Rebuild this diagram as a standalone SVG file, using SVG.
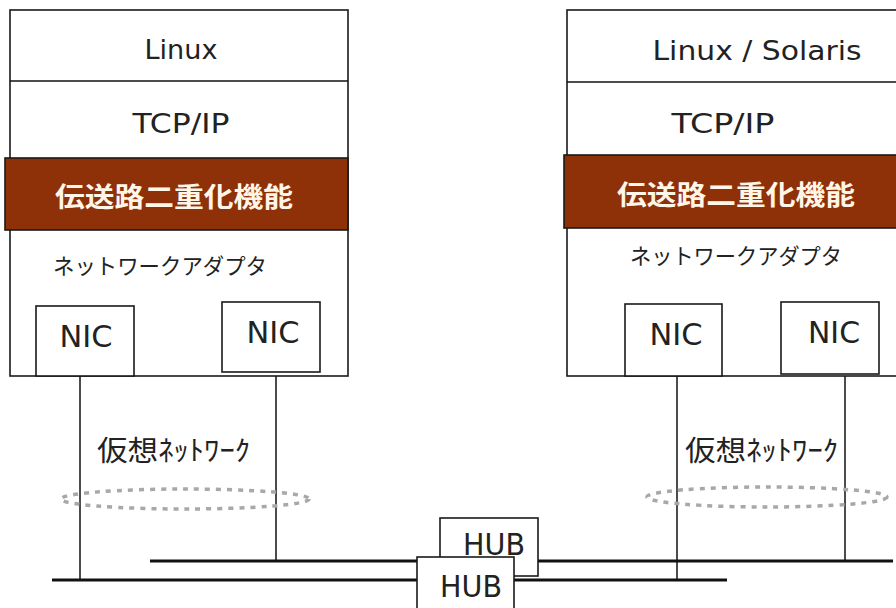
<svg xmlns="http://www.w3.org/2000/svg" width="896" height="608" viewBox="0 0 896 608">
<style>
.box{fill:#fff;stroke:#1a1a1a;stroke-width:1.6}
.band{fill:#8e3008;stroke:#1a1a1a;stroke-width:1.6}
.t{font-family:"DejaVu Sans","Noto Sans",sans-serif;fill:#222;font-size:26px}
.n{font-size:30px}
.j{font-family:"Noto Sans CJK JP",sans-serif;fill:#222}
.jb{font-family:"Noto Sans CJK JP",sans-serif;fill:#fff6e8;font-weight:bold;font-size:27px}
.bus{stroke:#111;stroke-width:3;fill:none}
.drop{stroke:#111;stroke-width:1.5;fill:none}
.vn{fill:none;stroke:#a8a8a8;stroke-width:3.5;stroke-dasharray:5 6}
</style>
<rect width="896" height="608" fill="#fff"/>
<g id="connectors">
<line class="drop" x1="80" y1="376" x2="80" y2="580"/>
<line class="drop" x1="276" y1="372" x2="276" y2="561"/>
<line class="drop" x1="677" y1="376" x2="677" y2="580"/>
<line class="drop" x1="845" y1="374" x2="845" y2="561"/>
<line class="bus" x1="150" y1="561" x2="440" y2="561"/>
<line class="bus" x1="538" y1="561" x2="893" y2="561"/>
<line class="bus" x1="52" y1="580" x2="417" y2="580"/>
<line class="bus" x1="514" y1="580" x2="727" y2="580"/>
</g>
<g id="host-left">
<rect class="box" x="10" y="10" width="338" height="366"/>
<line class="drop" x1="10" y1="81" x2="348" y2="81"/>
<text class="t" x="181" y="59" text-anchor="middle" textLength="73" lengthAdjust="spacingAndGlyphs">Linux</text>
<text class="t" x="181" y="133" text-anchor="middle" textLength="97" lengthAdjust="spacingAndGlyphs">TCP/IP</text>
<rect class="band" x="5" y="158" width="343" height="72"/>
<text class="jb" x="174" y="207" text-anchor="middle" textLength="238" lengthAdjust="spacingAndGlyphs">伝送路二重化機能</text>
<text class="j" x="53" y="274" font-size="22" textLength="214" lengthAdjust="spacingAndGlyphs">ネットワークアダプタ</text>
</g>
<g id="nic-l1">
<rect class="box" x="36" y="306" width="98" height="70"/>
<text class="t n" x="86" y="347" text-anchor="middle" textLength="53" lengthAdjust="spacingAndGlyphs">NIC</text>
</g>
<g id="nic-l2">
<rect class="box" x="222" y="302" width="98" height="70"/>
<text class="t n" x="273" y="343" text-anchor="middle" textLength="53" lengthAdjust="spacingAndGlyphs">NIC</text>
</g>
<g id="host-right">
<rect class="box" x="567" y="10" width="340" height="366"/>
<line class="drop" x1="567" y1="82" x2="896" y2="82"/>
<text class="t" x="757" y="60" text-anchor="middle" textLength="209" lengthAdjust="spacingAndGlyphs">Linux / Solaris</text>
<text class="t" x="723" y="133" text-anchor="middle" textLength="103" lengthAdjust="spacingAndGlyphs">TCP/IP</text>
<rect class="band" x="564" y="155" width="340" height="73"/>
<text class="jb" x="736" y="205" text-anchor="middle" textLength="238" lengthAdjust="spacingAndGlyphs">伝送路二重化機能</text>
<text class="j" x="630" y="264" font-size="22" textLength="212" lengthAdjust="spacingAndGlyphs">ネットワークアダプタ</text>
</g>
<g id="nic-r1">
<rect class="box" x="625" y="304" width="97" height="72"/>
<text class="t n" x="676" y="345" text-anchor="middle" textLength="53" lengthAdjust="spacingAndGlyphs">NIC</text>
</g>
<g id="nic-r2">
<rect class="box" x="781" y="302" width="98" height="72"/>
<text class="t n" x="834" y="343" text-anchor="middle" textLength="52" lengthAdjust="spacingAndGlyphs">NIC</text>
</g>
<g id="vnet-left">
<ellipse class="vn" cx="185" cy="499" rx="124" ry="10"/>
<text class="j" x="97" y="461" font-size="28" textLength="153" lengthAdjust="spacingAndGlyphs">仮想ﾈｯﾄﾜｰｸ</text>
</g>
<g id="vnet-right">
<ellipse class="vn" cx="767" cy="497" rx="120" ry="10"/>
<text class="j" x="685" y="461" font-size="28" textLength="153" lengthAdjust="spacingAndGlyphs">仮想ﾈｯﾄﾜｰｸ</text>
</g>
<g id="hub-upper">
<rect class="box" x="440" y="518" width="98" height="58"/>
<text class="t n" x="494" y="555" text-anchor="middle" textLength="62" lengthAdjust="spacingAndGlyphs">HUB</text>
</g>
<g id="hub-lower">
<rect class="box" x="417" y="557" width="97" height="60"/>
<text class="t n" x="471" y="597" text-anchor="middle" textLength="62" lengthAdjust="spacingAndGlyphs">HUB</text>
</g>
</svg>
